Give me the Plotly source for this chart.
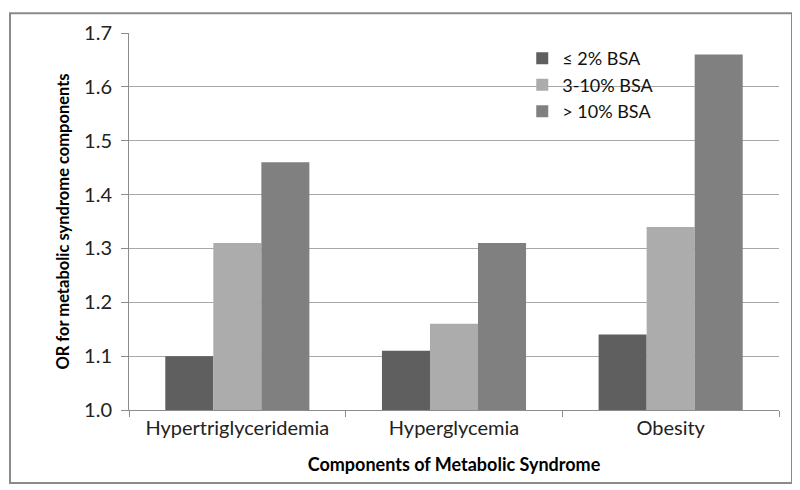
import plotly.graph_objects as go

categories = ["Hypertriglyceridemia", "Hyperglycemia", "Obesity"]
series_names = ["≤ 2% BSA", "3-10% BSA", "> 10% BSA"]
low_bsa = [1.10, 1.11, 1.14]
mid_bsa = [1.31, 1.16, 1.34]
high_bsa = [1.46, 1.31, 1.66]
colors = ["#5f5f5f", "#acacac", "#808080"]
y_ticks = [1.0, 1.1, 1.2, 1.3, 1.4, 1.5, 1.6, 1.7]

fig = go.Figure()
for name, vals, c in zip(series_names, [low_bsa, mid_bsa, high_bsa], colors):
    fig.add_trace(go.Bar(x=categories, y=vals, name=name, marker=dict(color=c, line=dict(width=0))))

# page body has an 8px margin; compensate so the plot area sits at x 129-779, y 30-410
OFF = 8
font_family = "Lato, 'Open Sans', sans-serif"
fig.update_layout(
    width=800 - OFF, height=490 - OFF,
    margin=dict(l=129 - OFF, r=21, t=30 - OFF, b=80),
    plot_bgcolor="white", paper_bgcolor="white",
    barmode="group", bargap=0.335, bargroupgap=0,
    font=dict(family=font_family, color="#000000"),
    legend=dict(x=0.605, y=0.981, xanchor="left", yanchor="top",
                font=dict(size=18, family=font_family, color="#111"), bgcolor="rgba(0,0,0,0)",
                itemwidth=30),
    showlegend=True,
)
fig.update_yaxes(
    range=[1.0, 1.7], tickvals=y_ticks, ticktext=[f"{v:.1f}" for v in y_ticks],
    showgrid=True, gridcolor="#a8a8a8", gridwidth=1,
    showline=True, linecolor="#8c8c8c", linewidth=1,
    ticks="outside", ticklen=7, tickcolor="#8c8c8c", ticklabelstandoff=5,
    tickfont=dict(size=20, color="#222"), zeroline=False,
    title=dict(text="<b>OR for metabolic syndrome components</b>", font=dict(size=16.5), standoff=10),
)
fig.update_xaxes(
    showline=True, linecolor="#8c8c8c", linewidth=1,
    ticks="outside", ticklen=6, tickcolor="#8c8c8c", tickson="boundaries",
    tickfont=dict(size=20, color="#222"),
    title=dict(text="<b>Components of Metabolic Syndrome</b>", font=dict(size=18), standoff=20),
)
fig.add_shape(type="rect", xref="paper", yref="paper",
              x0=(10 - 129) / 650, x1=(792 - 129) / 650,
              y0=(410 - 483.5) / 380, y1=(410 - 10) / 380,
              line=dict(color="#8a8a8a", width=2), layer="below")

fig.write_html("out.html")
